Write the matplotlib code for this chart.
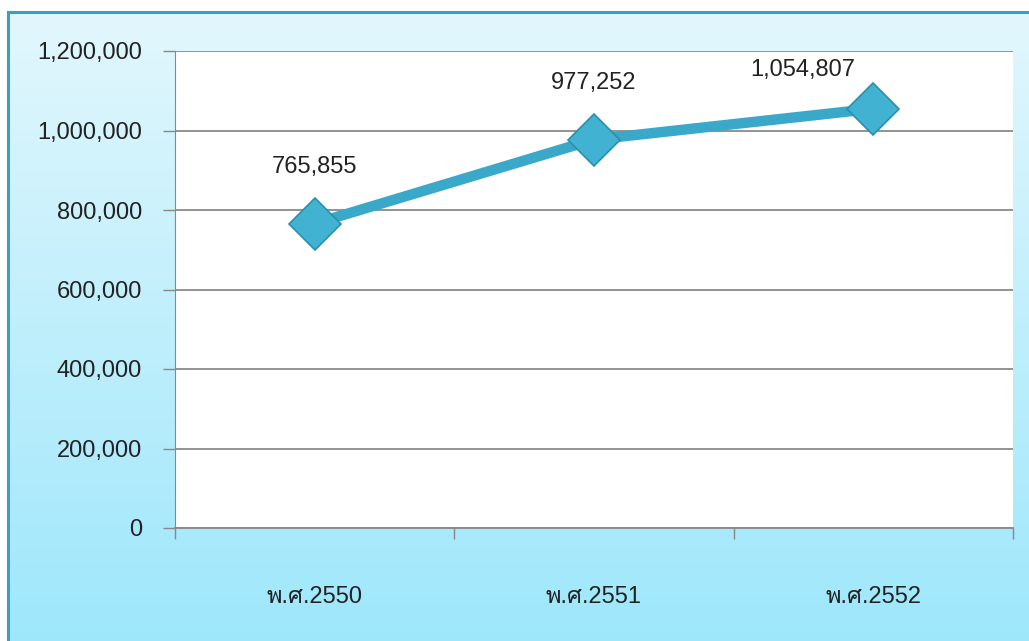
import numpy as np
import matplotlib
matplotlib.use("Agg")
import matplotlib.pyplot as plt
from matplotlib import font_manager
from matplotlib.ft2font import FT2Font
from matplotlib.ticker import FuncFormatter

categories = ["พ.ศ.2550", "พ.ศ.2551", "พ.ศ.2552"]
values = [765855, 977252, 1054807]
value_labels = ["765,855", "977,252", "1,054,807"]
yticks = [0, 200000, 400000, 600000, 800000, 1000000, 1200000]

# find an installed font with Thai glyphs
thai_family = None
for f in font_manager.fontManager.ttflist:
    try:
        ft = FT2Font(f.fname)
        cm = ft.get_charmap()
        if 0x0E1E in cm and 0x0E28 in cm:
            thai_family = f.name
            break
    except Exception:
        pass
families = ["Liberation Sans"]
if thai_family:
    families.append(thai_family)
families.append("DejaVu Sans")
plt.rcParams['font.family'] = families

W, H = 1029, 641
fig = plt.figure(figsize=(W / 100, H / 100), dpi=100)
fig.patch.set_facecolor("white")

# background gradient
bg = fig.add_axes([8 / W, 0, 1 - 8 / W, 1 - 12 / H])
bg.set_axis_off()
top = np.array([0xe2, 0xf7, 0xfd]) / 255
bot = np.array([0x9e, 0xe7, 0xfb]) / 255
t = np.linspace(0, 1, 256)[:, None]
grad = top[None, :] * (1 - t) + bot[None, :] * t
bg.imshow(grad[:, None, :], aspect="auto", extent=[0, 1, 0, 1])
bg.set_xlim(0, 1)
bg.set_ylim(0, 1)
fig.add_artist(plt.Line2D([8 / W, 8 / W], [0, 1 - 12 / H], color="#3aa0bc", lw=2.2))
fig.add_artist(plt.Line2D([8 / W, 1], [1 - 12 / H, 1 - 12 / H], color="#3aa0bc", lw=2.2))

left, right, topp, bottom = 175, 1013, 51, 528
ax = fig.add_axes([left / W, 1 - bottom / H, (right - left) / W, (bottom - topp) / H])
ax.set_facecolor("white")
x = np.arange(len(categories))
ax.set_xlim(-0.5, len(categories) - 0.5)
ax.set_ylim(0, 1200000)
ax.set_yticks(yticks)
ax.yaxis.set_major_formatter(FuncFormatter(lambda v, p: f"{int(v):,}"))
ax.set_xticks(np.arange(-0.5, len(categories)), minor=False)
ax.set_xticklabels([""] * (len(categories) + 1))
ax.set_xticks(x, minor=True)
ax.set_xticklabels(categories, minor=True)
ax.tick_params(axis="x", which="major", length=8, width=1, color="#888888", direction="out")
ax.tick_params(axis="x", which="minor", length=0, pad=42, labelsize=17, labelcolor="#222222")
ax.tick_params(axis="y", length=8.6, width=1, color="#888888", pad=15, labelsize=17, labelcolor="#222222")
ax.grid(axis="y", color="#8a8a8a", lw=1.3)
ax.set_axisbelow(True)
for s in ["top", "right"]:
    ax.spines[s].set_visible(False)
ax.spines["left"].set_color("#888888")
ax.spines["bottom"].set_color("#888888")
ax.spines["bottom"].set_linewidth(1.3)

ax.plot(x, values, color="#3aa8c8", lw=7.5, solid_capstyle="round", zorder=3)
ax.plot(x, values, ls="none", marker="D", ms=26, mfc="#42b2d2", mec="#2a8fae", mew=1.2, zorder=4)

offsets = [(0, 41), (0, 41), (-51, 28)]
for xi, v, lab, off in zip(x, values, value_labels, offsets):
    ax.annotate(lab, (xi, v), xytext=off, textcoords="offset points", ha="center", va="center",
                fontsize=17, color="#222222", annotation_clip=False, zorder=5)

fig.savefig("out.png", dpi=100)
